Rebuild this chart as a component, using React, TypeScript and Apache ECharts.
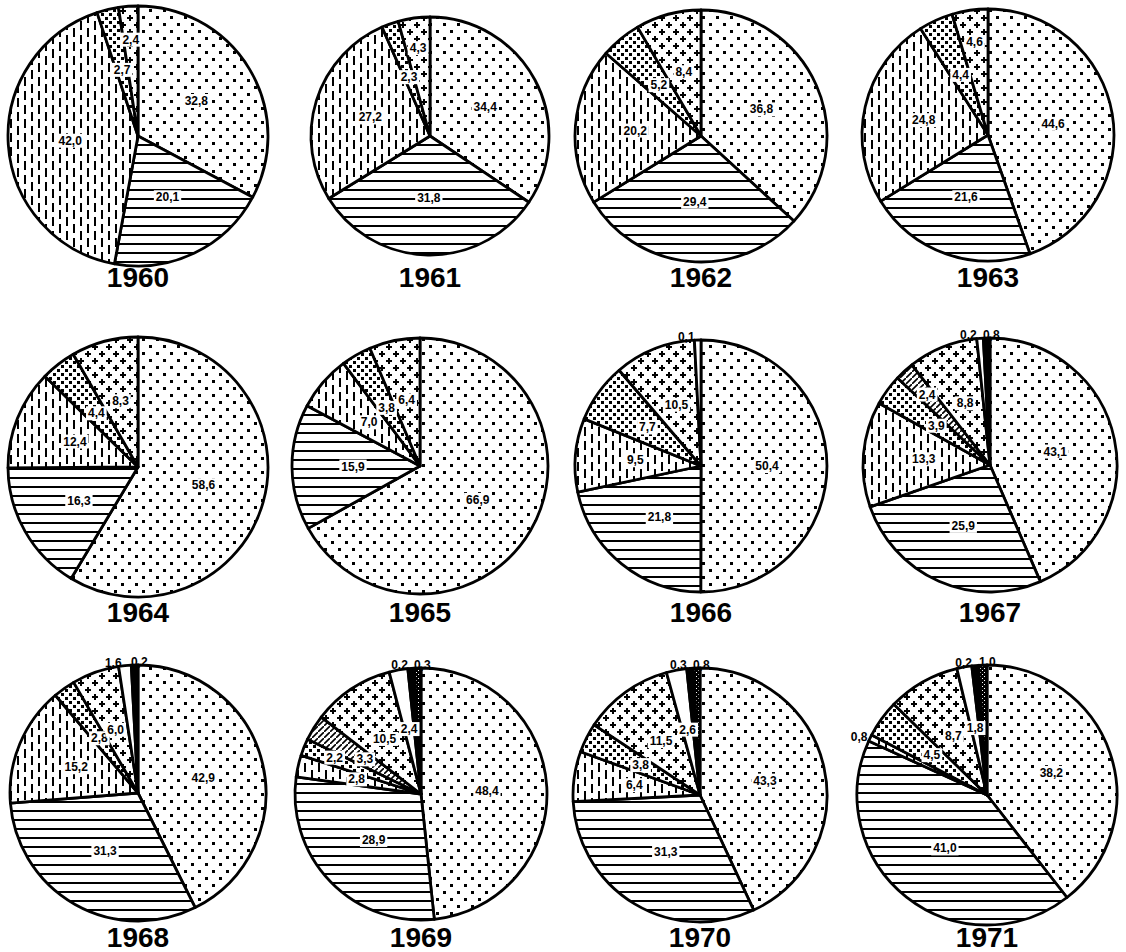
import React, { useEffect, useRef } from 'react';
import * as echarts from 'echarts';

// Categories in clockwise order from 12 o'clock
const categories = ['dots', 'horizontal', 'vertical', 'denseDots', 'diagonal', 'plus', 'white', 'black', 'hatched'];

const years = ['1960', '1961', '1962', '1963', '1964', '1965', '1966', '1967', '1968', '1969', '1970', '1971'];

const v1960 = [32.8, 20.1, 42.0, 2.7, 0, 2.4, 0, 0, 0];
const v1961 = [34.4, 31.8, 27.2, 2.3, 0, 4.3, 0, 0, 0];
const v1962 = [36.8, 29.4, 20.2, 5.2, 0, 8.4, 0, 0, 0];
const v1963 = [44.6, 21.6, 24.8, 4.4, 0, 4.6, 0, 0, 0];
const v1964 = [58.6, 16.3, 12.4, 4.4, 0, 8.3, 0, 0, 0];
const v1965 = [66.9, 15.9, 7.0, 3.8, 0, 6.4, 0, 0, 0];
const v1966 = [50.4, 21.8, 9.5, 7.7, 0, 10.5, 0.1, 0, 0];
const v1967 = [43.1, 25.9, 13.3, 3.9, 2.4, 8.8, 0.2, 0.8, 0];
const v1968 = [42.9, 31.3, 15.2, 2.8, 0, 6.0, 1.6, 0.2, 0];
const v1969 = [48.4, 28.9, 2.8, 2.2, 3.3, 10.5, 2.4, 0.2, 0.3];
const v1970 = [43.3, 31.3, 6.4, 3.8, 0, 11.5, 2.6, 0.3, 0.8];
const v1971 = [38.2, 41.0, 0.8, 4.5, 0, 8.7, 1.8, 0.2, 1.0];

const yearValues = [v1960, v1961, v1962, v1963, v1964, v1965, v1966, v1967, v1968, v1969, v1970, v1971];

// layout (px)
const pieCenters = [
  [138, 136], [430, 136], [701, 136], [988, 135],
  [138, 467], [420, 466], [701, 466], [990, 465],
  [138, 793], [421, 794], [700, 795], [987, 795],
];
const pieRadii = [130, 119, 126, 126, 130, 128, 126, 127, 128, 126, 127, 130];
const titleY = [277, 277, 277, 277, 612, 612, 612, 612, 937, 937, 937, 937];

type Pat = { image: HTMLCanvasElement; repeat: string; imageWidth: number; imageHeight: number };

function canvasPattern(w: number, h: number, draw: (ctx: CanvasRenderingContext2D) => void): Pat {
  const c = document.createElement('canvas');
  c.width = w;
  c.height = h;
  const ctx = c.getContext('2d') as CanvasRenderingContext2D;
  ctx.fillStyle = '#fff';
  ctx.fillRect(0, 0, w, h);
  ctx.fillStyle = '#000';
  ctx.strokeStyle = '#000';
  draw(ctx);
  return { image: c, repeat: 'repeat', imageWidth: w, imageHeight: h };
}

function makeFills(): Record<string, any> {
  return {
    dots: canvasPattern(14, 14, (ctx) => {
      ctx.fillRect(2, 2, 3, 3);
      ctx.fillRect(9, 9, 3, 3);
    }),
    horizontal: canvasPattern(8, 9, (ctx) => {
      ctx.fillRect(0, 0, 8, 2);
    }),
    vertical: canvasPattern(14, 14, (ctx) => {
      ctx.fillRect(3, 0, 2, 9);
      ctx.fillRect(10, 7, 2, 9);
      ctx.fillRect(10, 0, 2, 2);
    }),
    denseDots: canvasPattern(8, 8, (ctx) => {
      ctx.fillRect(1, 1, 3, 3);
      ctx.fillRect(5, 5, 3, 3);
    }),
    diagonal: canvasPattern(6, 6, (ctx) => {
      ctx.lineWidth = 1.6;
      ctx.beginPath();
      ctx.moveTo(-1, 7);
      ctx.lineTo(7, -1);
      ctx.stroke();
    }),
    plus: canvasPattern(14, 14, (ctx) => {
      ctx.fillRect(1, 3, 6, 2);
      ctx.fillRect(3, 1, 2, 6);
      ctx.fillRect(8, 10, 6, 2);
      ctx.fillRect(10, 8, 2, 6);
    }),
    white: '#ffffff',
    black: '#000000',
    hatched: canvasPattern(4, 4, (ctx) => {
      ctx.fillStyle = '#000';
      ctx.fillRect(0, 0, 4, 4);
      ctx.fillStyle = '#fff';
      ctx.fillRect(0, 0, 1, 1);
      ctx.fillRect(2, 2, 1, 1);
    }),
  };
}

function fmt(v: number): string {
  return v.toFixed(1).replace('.', ',');
}

export default function App() {
  const ref = useRef<HTMLDivElement>(null);

  useEffect(() => {
    if (!ref.current) return;
    const chart = echarts.init(ref.current, null, { renderer: 'svg' });
    const fills = makeFills();

    const series = yearValues.map((vals, i) => {
      const entries = vals.map((v, k) => ({ v, k })).filter((d) => d.v > 0);
      const total = entries.reduce((s, d) => s + d.v, 0);
      const r = pieRadii[i];
      // label nudges, derived from the slice's own mid-angle
      let cum = 0;
      let smallInsideCount = 0;
      let topOutsideCount = 0;
      const nudges: { dx: number; dy: number }[] = [];
      entries.forEach((d) => {
        const mid = ((cum + d.v / 2) / total) * Math.PI * 2;
        cum += d.v;
        const small = d.v < 1.7;
        let dx = 0;
        let dy = 0;
        if (small) {
          if (d.k >= 6) {
            dx = topOutsideCount === 0 ? -3 : 13;
            topOutsideCount++;
          }
        } else if (d.v < 6) {
          const push = smallInsideCount % 2 === 1 ? r * 0.22 : 0;
          smallInsideCount++;
          dx = Math.sin(mid) * push;
          dy = -Math.cos(mid) * push;
        } else {
          smallInsideCount = 0;
        }
        nudges.push({ dx, dy });
      });

      const data = entries.map((d) => {
        const small = d.v < 1.7;
        return {
          name: categories[d.k],
          value: d.v,
          itemStyle: { color: fills[categories[d.k]] },
          label: small
            ? {
                position: 'outside',
                backgroundColor: 'transparent',
                padding: 0,
                distanceToLabelLine: 0,
              }
            : { position: 'inside' },
          labelLine: { show: false, length: 3, length2: 0 },
        };
      });
      return {
        type: 'pie',
        name: years[i],
        center: pieCenters[i],
        radius: [0, r],
        startAngle: 90,
        clockwise: true,
        minAngle: 3,
        avoidLabelOverlap: false,
        silent: true,
        itemStyle: { borderColor: '#000', borderWidth: 2.8 },
        label: {
          show: true,
          formatter: (p: any) => fmt(p.value),
          color: '#000',
          fontFamily: 'Liberation Sans, Arial, sans-serif',
          fontWeight: 'bold',
          fontSize: 12,
          backgroundColor: '#fff',
          padding: [1, 2],
        },
        labelLayout: (params: any) => {
          const n = nudges[params.dataIndex] || { dx: 0, dy: 0 };
          return { hideOverlap: false, moveOverlap: false, dx: n.dx, dy: n.dy };
        },
        emphasis: { disabled: true },
        data,
      };
    });

    const graphic = years.map((y, i) => ({
      type: 'text',
      x: pieCenters[i][0],
      y: titleY[i],
      style: {
        text: y,
        textAlign: 'center',
        textVerticalAlign: 'middle',
        font: 'bold 28px "Liberation Sans", Arial, sans-serif',
        fill: '#000',
      },
    }));

    chart.setOption({
      animation: false,
      backgroundColor: '#fff',
      series,
      graphic,
    });

    return () => chart.dispose();
  }, []);

  return (
    <div
      ref={ref}
      style={{ position: 'absolute', left: 0, top: 0, width: 1126, height: 952, background: '#fff' }}
    />
  );
}
